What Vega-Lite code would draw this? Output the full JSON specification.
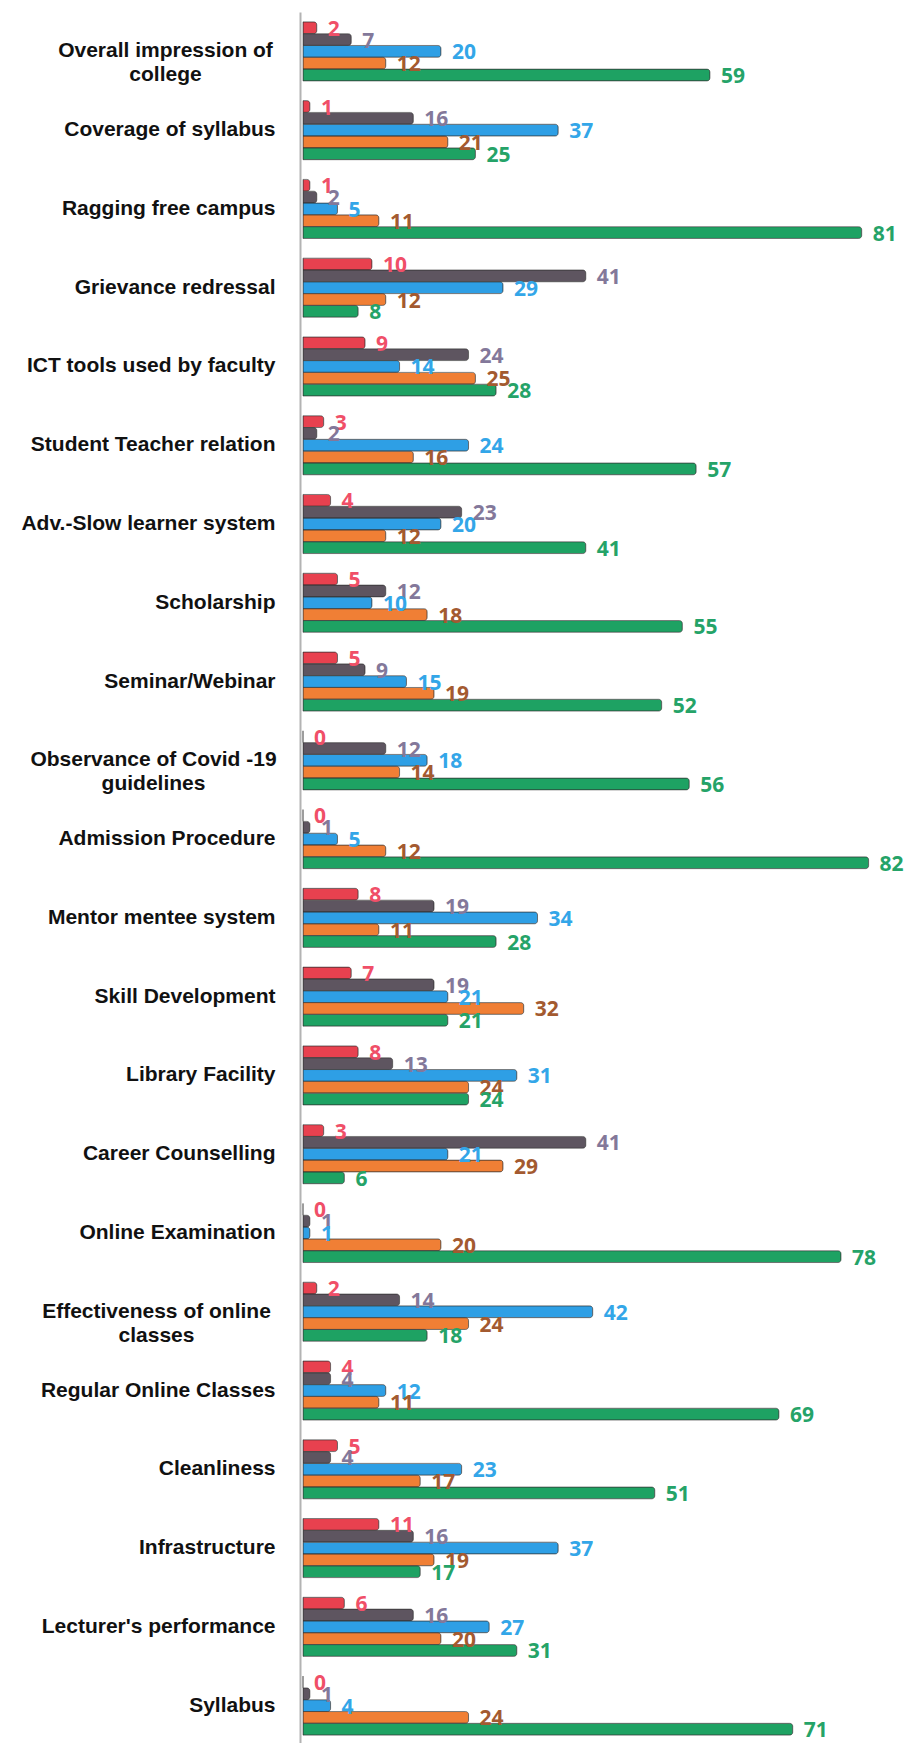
{
  "$schema": "https://vega.github.io/schema/vega-lite/v6.json",
  "autosize": {"type": "none"},
  "padding": {"left": 303, "top": 12, "right": 6, "bottom": 0},
  "width": 607,
  "height": 1733,
  "background": "white",
  "config": {"view": {"stroke": null}},
  "data": {"values": [
    {"category": "Overall impression of|college", "series": "S1", "value": 2},
    {"category": "Overall impression of|college", "series": "S2", "value": 7},
    {"category": "Overall impression of|college", "series": "S3", "value": 20},
    {"category": "Overall impression of|college", "series": "S4", "value": 12},
    {"category": "Overall impression of|college", "series": "S5", "value": 59},
    {"category": "Coverage of syllabus", "series": "S1", "value": 1},
    {"category": "Coverage of syllabus", "series": "S2", "value": 16},
    {"category": "Coverage of syllabus", "series": "S3", "value": 37},
    {"category": "Coverage of syllabus", "series": "S4", "value": 21},
    {"category": "Coverage of syllabus", "series": "S5", "value": 25},
    {"category": "Ragging free campus", "series": "S1", "value": 1},
    {"category": "Ragging free campus", "series": "S2", "value": 2},
    {"category": "Ragging free campus", "series": "S3", "value": 5},
    {"category": "Ragging free campus", "series": "S4", "value": 11},
    {"category": "Ragging free campus", "series": "S5", "value": 81},
    {"category": "Grievance redressal", "series": "S1", "value": 10},
    {"category": "Grievance redressal", "series": "S2", "value": 41},
    {"category": "Grievance redressal", "series": "S3", "value": 29},
    {"category": "Grievance redressal", "series": "S4", "value": 12},
    {"category": "Grievance redressal", "series": "S5", "value": 8},
    {"category": "ICT tools used by faculty", "series": "S1", "value": 9},
    {"category": "ICT tools used by faculty", "series": "S2", "value": 24},
    {"category": "ICT tools used by faculty", "series": "S3", "value": 14},
    {"category": "ICT tools used by faculty", "series": "S4", "value": 25},
    {"category": "ICT tools used by faculty", "series": "S5", "value": 28},
    {"category": "Student Teacher relation", "series": "S1", "value": 3},
    {"category": "Student Teacher relation", "series": "S2", "value": 2},
    {"category": "Student Teacher relation", "series": "S3", "value": 24},
    {"category": "Student Teacher relation", "series": "S4", "value": 16},
    {"category": "Student Teacher relation", "series": "S5", "value": 57},
    {"category": "Adv.-Slow learner system", "series": "S1", "value": 4},
    {"category": "Adv.-Slow learner system", "series": "S2", "value": 23},
    {"category": "Adv.-Slow learner system", "series": "S3", "value": 20},
    {"category": "Adv.-Slow learner system", "series": "S4", "value": 12},
    {"category": "Adv.-Slow learner system", "series": "S5", "value": 41},
    {"category": "Scholarship", "series": "S1", "value": 5},
    {"category": "Scholarship", "series": "S2", "value": 12},
    {"category": "Scholarship", "series": "S3", "value": 10},
    {"category": "Scholarship", "series": "S4", "value": 18},
    {"category": "Scholarship", "series": "S5", "value": 55},
    {"category": "Seminar/Webinar", "series": "S1", "value": 5},
    {"category": "Seminar/Webinar", "series": "S2", "value": 9},
    {"category": "Seminar/Webinar", "series": "S3", "value": 15},
    {"category": "Seminar/Webinar", "series": "S4", "value": 19},
    {"category": "Seminar/Webinar", "series": "S5", "value": 52},
    {"category": "Observance of Covid -19|guidelines", "series": "S1", "value": 0},
    {"category": "Observance of Covid -19|guidelines", "series": "S2", "value": 12},
    {"category": "Observance of Covid -19|guidelines", "series": "S3", "value": 18},
    {"category": "Observance of Covid -19|guidelines", "series": "S4", "value": 14},
    {"category": "Observance of Covid -19|guidelines", "series": "S5", "value": 56},
    {"category": "Admission Procedure", "series": "S1", "value": 0},
    {"category": "Admission Procedure", "series": "S2", "value": 1},
    {"category": "Admission Procedure", "series": "S3", "value": 5},
    {"category": "Admission Procedure", "series": "S4", "value": 12},
    {"category": "Admission Procedure", "series": "S5", "value": 82},
    {"category": "Mentor mentee system", "series": "S1", "value": 8},
    {"category": "Mentor mentee system", "series": "S2", "value": 19},
    {"category": "Mentor mentee system", "series": "S3", "value": 34},
    {"category": "Mentor mentee system", "series": "S4", "value": 11},
    {"category": "Mentor mentee system", "series": "S5", "value": 28},
    {"category": "Skill Development", "series": "S1", "value": 7},
    {"category": "Skill Development", "series": "S2", "value": 19},
    {"category": "Skill Development", "series": "S3", "value": 21},
    {"category": "Skill Development", "series": "S4", "value": 32},
    {"category": "Skill Development", "series": "S5", "value": 21},
    {"category": "Library Facility", "series": "S1", "value": 8},
    {"category": "Library Facility", "series": "S2", "value": 13},
    {"category": "Library Facility", "series": "S3", "value": 31},
    {"category": "Library Facility", "series": "S4", "value": 24},
    {"category": "Library Facility", "series": "S5", "value": 24},
    {"category": "Career Counselling", "series": "S1", "value": 3},
    {"category": "Career Counselling", "series": "S2", "value": 41},
    {"category": "Career Counselling", "series": "S3", "value": 21},
    {"category": "Career Counselling", "series": "S4", "value": 29},
    {"category": "Career Counselling", "series": "S5", "value": 6},
    {"category": "Online Examination", "series": "S1", "value": 0},
    {"category": "Online Examination", "series": "S2", "value": 1},
    {"category": "Online Examination", "series": "S3", "value": 1},
    {"category": "Online Examination", "series": "S4", "value": 20},
    {"category": "Online Examination", "series": "S5", "value": 78},
    {"category": "Effectiveness of online|classes", "series": "S1", "value": 2},
    {"category": "Effectiveness of online|classes", "series": "S2", "value": 14},
    {"category": "Effectiveness of online|classes", "series": "S3", "value": 42},
    {"category": "Effectiveness of online|classes", "series": "S4", "value": 24},
    {"category": "Effectiveness of online|classes", "series": "S5", "value": 18},
    {"category": "Regular Online Classes", "series": "S1", "value": 4},
    {"category": "Regular Online Classes", "series": "S2", "value": 4},
    {"category": "Regular Online Classes", "series": "S3", "value": 12},
    {"category": "Regular Online Classes", "series": "S4", "value": 11},
    {"category": "Regular Online Classes", "series": "S5", "value": 69},
    {"category": "Cleanliness", "series": "S1", "value": 5},
    {"category": "Cleanliness", "series": "S2", "value": 4},
    {"category": "Cleanliness", "series": "S3", "value": 23},
    {"category": "Cleanliness", "series": "S4", "value": 17},
    {"category": "Cleanliness", "series": "S5", "value": 51},
    {"category": "Infrastructure", "series": "S1", "value": 11},
    {"category": "Infrastructure", "series": "S2", "value": 16},
    {"category": "Infrastructure", "series": "S3", "value": 37},
    {"category": "Infrastructure", "series": "S4", "value": 19},
    {"category": "Infrastructure", "series": "S5", "value": 17},
    {"category": "Lecturer's performance", "series": "S1", "value": 6},
    {"category": "Lecturer's performance", "series": "S2", "value": 16},
    {"category": "Lecturer's performance", "series": "S3", "value": 27},
    {"category": "Lecturer's performance", "series": "S4", "value": 20},
    {"category": "Lecturer's performance", "series": "S5", "value": 31},
    {"category": "Syllabus", "series": "S1", "value": 0},
    {"category": "Syllabus", "series": "S2", "value": 1},
    {"category": "Syllabus", "series": "S3", "value": 4},
    {"category": "Syllabus", "series": "S4", "value": 24},
    {"category": "Syllabus", "series": "S5", "value": 71}
  ]},
  "encoding": {
    "y": {
      "field": "category", "type": "nominal", "sort": null,
      "scale": {"paddingInner": 0.25, "paddingOuter": 0.125},
      "axis": {
        "title": null, "ticks": false, "grid": false,
        "domain": true, "domainColor": "#b3b3b3", "domainWidth": 2,
        "offset": 3, "labelLimit": 300,
        "labelFont": "Liberation Sans", "labelFontWeight": "bold",
        "labelFontSize": 21, "labelColor": "#111111", "labelLineHeight": 24,
        "labelAlign": {"condition": {"test": "indexof(datum.value, '|') >= 0", "value": "center"}, "value": "right"},
        "labelPadding": {"condition": [
          {"test": "datum.value === 'Overall impression of|college'", "value": 135},
          {"test": "datum.value === 'Observance of Covid -19|guidelines'", "value": 147},
          {"test": "datum.value === 'Effectiveness of online|classes'", "value": 144}
        ], "value": 25},
        "labelExpr": "split(datum.label, '|')"
      }
    },
    "yOffset": {"field": "series", "type": "nominal", "sort": ["S1", "S2", "S3", "S4", "S5"], "scale": {"paddingInner": 0, "paddingOuter": 0}},
    "x": {"field": "value", "type": "quantitative", "scale": {"domain": [0, 88], "nice": false}, "axis": null}
  },
  "layer": [
    {
      "mark": {"type": "bar", "cornerRadiusEnd": 3, "stroke": "#333333", "strokeWidth": 0.8, "strokeOpacity": 0.7},
      "encoding": {
        "color": {"field": "series", "type": "nominal", "legend": null,
          "scale": {"domain": ["S1", "S2", "S3", "S4", "S5"], "range": ["#E8414F", "#5E5560", "#2E9FE5", "#F07F35", "#1EA263"]}}
      }
    },
    {
      "mark": {"type": "text", "align": "left", "baseline": "middle", "dx": 11, "dy": 2, "font": "Open Sans", "fontWeight": "bold", "fontSize": 21},
      "encoding": {
        "text": {"field": "value", "type": "quantitative"},
        "color": {"field": "series", "type": "nominal", "legend": null,
          "scale": {"domain": ["S1", "S2", "S3", "S4", "S5"], "range": ["#F04F68", "#83789A", "#33A6E8", "#A35A30", "#25A368"]}}
      }
    }
  ],
  "resolve": {"scale": {"color": "independent"}}
}
